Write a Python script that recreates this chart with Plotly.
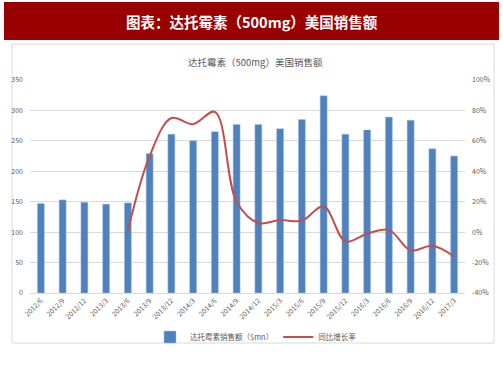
import plotly.graph_objects as go

categories = ["2012/6", "2012/9", "2012/12", "2013/3", "2013/6", "2013/9", "2013/12",
              "2014/3", "2014/6", "2014/9", "2014/12", "2015/3", "2015/6", "2015/9",
              "2015/12", "2016/3", "2016/6", "2016/9", "2016/12", "2017/3"]
sales = [147, 153, 149, 146, 148, 229, 261, 250, 265, 277, 277, 270, 285, 324,
         261, 268, 289, 284, 237, 225]
growth = [None, None, None, None, 1, 50, 75, 71, 79, 20, 6, 8, 7.5, 17,
          -6, -1, 1.5, -12, -9, -16]

left_ticks = [0, 50, 100, 150, 200, 250, 300, 350]
right_ticks = [-40, -20, 0, 20, 40, 60, 80, 100]

W, H = 503, 378
def px(x): return x / W
def py(y): return 1 - y / H

FONT = "Noto Sans CJK SC"
fig = go.Figure()
fig.add_trace(go.Bar(x=categories, y=sales, name="达托霉素销售额（$mn）",
                     marker=dict(color="#4F81BD", line=dict(color="#A9C1E0", width=0.5)),
                     yaxis="y"))
fig.add_trace(go.Scatter(x=categories, y=growth, name="同比增长率", mode="lines",
                         line=dict(color="#C0504D", width=2, shape="spline", smoothing=1.0),
                         yaxis="y2", connectgaps=False))

fig.update_layout(
    width=W, height=H,
    margin=dict(l=0, r=0, t=0, b=0, pad=0),
    paper_bgcolor="white", plot_bgcolor="white",
    font=dict(family=FONT, color="#595959", size=7),
    bargap=0.68,
    showlegend=True,
    legend=dict(orientation="h", x=px(256), xanchor="center", y=py(337), yanchor="middle",
                font=dict(size=7.5, color="#595959"), itemwidth=30,
                bgcolor="rgba(0,0,0,0)"),
    xaxis=dict(domain=[px(30), px(465)], type="category", tickangle=-45,
               tickfont=dict(size=7, color="#595959"), showgrid=False, automargin=False,
               showline=True, linecolor="#D9D9D9", linewidth=1, ticks="",
               range=[-0.5, 19.5]),
    yaxis=dict(domain=[py(293), py(80)], range=[0, 350], tickvals=left_ticks,
               tickfont=dict(size=7, color="#595959"), showgrid=True, automargin=False,
               gridcolor="#D9D9D9", gridwidth=1, zeroline=False, ticks="",
               ticklabelstandoff=6),
    yaxis2=dict(overlaying="y", side="right", range=[-40, 100], tickvals=right_ticks,
                ticktext=[f"{v}%" for v in right_ticks], automargin=False,
                tickfont=dict(size=7, color="#595959"), showgrid=False,
                zeroline=False, ticks="", ticklabelstandoff=6),
    shapes=[
        dict(type="rect", xref="paper", yref="paper", x0=px(4), x1=px(499), y0=py(40), y1=py(2),
             fillcolor="#990000", line=dict(width=0), layer="below"),
        dict(type="rect", xref="paper", yref="paper", x0=px(12), x1=px(494), y0=py(343), y1=py(44),
             fillcolor="rgba(0,0,0,0)", line=dict(color="#D9D9D9", width=1), layer="below"),
    ],
    annotations=[
        dict(text="<b>图表：达托霉素（500mg）美国销售额</b>", xref="paper", yref="paper",
             x=px(252), y=py(21), xanchor="center", yanchor="middle", showarrow=False,
             font=dict(size=14.5, color="white", family=FONT)),
        dict(text="达托霉素（500mg）美国销售额", xref="paper", yref="paper",
             x=px(256), y=py(62), xanchor="center", yanchor="middle", showarrow=False,
             font=dict(size=9.5, color="#595959", family=FONT)),
    ],
)

fig.write_html("out.html", config={"displayModeBar": False},
               post_script="document.body.style.margin='0px';document.body.style.overflow='hidden';")
